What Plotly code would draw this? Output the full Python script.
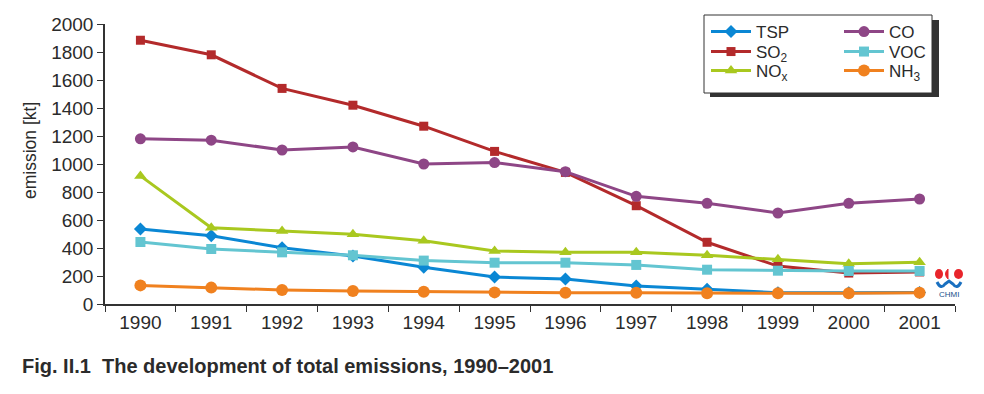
import plotly.graph_objects as go

years = [str(y) for y in range(1990, 2002)]
tsp = [536, 488, 402, 343, 262, 193, 178, 129, 105, 81, 80, 82]
so2 = [1884, 1780, 1540, 1420, 1270, 1090, 940, 702, 441, 271, 221, 229]
nox = [915, 545, 521, 498, 452, 379, 369, 369, 348, 319, 288, 298]
co = [1180, 1170, 1100, 1122, 1000, 1010, 945, 769, 719, 650, 719, 750]
voc = [443, 393, 369, 348, 310, 295, 295, 279, 245, 238, 236, 236]
nh3 = [133, 117, 100, 93, 88, 83, 81, 81, 76, 76, 76, 81]

FONT = "Liberation Sans, Arial, sans-serif"
TXT = "#2b2b2b"

# figure drawn inside the page body (8px default margin)
W, H = 968, 378
L, T = 97, 16
PR, PB = 947, 296          # plot right / bottom in figure px
R, B = W - PR, H - PB
pw, ph = PR - L, PB - T


def px(x):
    return (x - L) / pw


def py(y):
    return (PB - y) / ph


COL1, COL2 = 698, 831
ROWS = [24, 44, 63]

series = [
    ("TSP", tsp, "#0a87d4", "diamond", 10, "legend", COL1, ROWS[0]),
    ("SO<sub>2</sub>", so2, "#b32a2b", "square", 9, "legend2", COL1, ROWS[1]),
    ("NO<sub>x</sub>", nox, "#a9c81f", "triangle-up", 11, "legend3", COL1, ROWS[2]),
    ("CO", co, "#8e4686", "circle", 11, "legend4", COL2, ROWS[0]),
    ("VOC", voc, "#63c5d1", "square", 10, "legend5", COL2, ROWS[1]),
    ("NH<sub>3</sub>", nh3, "#f0811f", "circle", 12, "legend6", COL2, ROWS[2]),
]

fig = go.Figure()
legends = {}
for name, vals, col, sym, sz, leg, lx, ly in series:
    fig.add_trace(go.Scatter(
        x=years, y=vals, name=name, mode="lines+markers",
        line=dict(color=col, width=3),
        marker=dict(color=col, symbol=sym, size=sz),
        legend=leg,
    ))
    legends[leg] = dict(x=px(lx), y=py(ly), xanchor="left", yanchor="middle",
                        bgcolor="rgba(0,0,0,0)",
                        font=dict(size=17, family=FONT, color=TXT),
                        itemwidth=40)

shapes = [
    # legend shadow
    dict(type="rect", xref="paper", yref="paper",
         x0=px(702), x1=px(931), y0=py(89), y1=py(12),
         fillcolor="#333333", line=dict(width=0), layer="above"),
    # legend box
    dict(type="rect", xref="paper", yref="paper",
         x0=px(696), x1=px(924), y0=py(85), y1=py(7),
         fillcolor="white", line=dict(color="#333333", width=1), layer="above"),
    # CHMI logo
    dict(type="circle", xref="paper", yref="paper",
         x0=px(927), x1=px(935), y0=py(271), y1=py(261),
         fillcolor="#e8252b", line=dict(width=0), layer="above"),
    dict(type="path", xref="paper", yref="paper",
         path=(f"M {px(940)},{py(261)} Q {px(935)},{py(266)} {px(940)},{py(271)} Z"),
         fillcolor="#e8252b", line=dict(color="#e8252b", width=1), layer="above"),
    dict(type="circle", xref="paper", yref="paper",
         x0=px(946), x1=px(955), y0=py(271), y1=py(261),
         fillcolor="#e8252b", line=dict(width=0), layer="above"),
    dict(type="path", xref="paper", yref="paper",
         path=(f"M {px(929)},{py(274)} Q {px(933)},{py(282)} {px(937)},{py(276)}"
               f" L {px(941)},{py(273)} L {px(945)},{py(276)}"
               f" Q {px(949)},{py(282)} {px(953)},{py(274)}"),
         line=dict(color="#1a70c0", width=3), layer="above"),
]

fig.update_layout(
    width=W, height=H,
    margin=dict(l=L, r=R, t=T, b=B, autoexpand=False),
    paper_bgcolor="white", plot_bgcolor="white",
    font=dict(family=FONT, color=TXT, size=17),
    showlegend=True,
    xaxis=dict(type="category", range=[-0.5, 11.5], showgrid=False,
               showline=True, linecolor="#333333", linewidth=1.5,
               ticks="outside", tickson="boundaries", ticklen=6, tickcolor="#333333",
               tickfont=dict(size=19, family=FONT, color=TXT), zeroline=False),
    yaxis=dict(range=[0, 2000], dtick=200, showgrid=False, zeroline=False,
               showline=True, linecolor="#333333", linewidth=1.5,
               ticks="outside", ticklen=6, tickcolor="#333333",
               tickfont=dict(size=19, family=FONT, color=TXT)),
    shapes=shapes,
    annotations=[
        dict(text="emission [kt]", textangle=-90,
             xref="paper", yref="paper", x=px(22), y=py(143),
             xanchor="center", yanchor="middle", showarrow=False,
             font=dict(size=17.5, family=FONT, color=TXT)),
        dict(text="<b>Fig. II.1  The development of total emissions, 1990–2001</b>",
             xref="paper", yref="paper", x=px(12), y=py(358), xanchor="left", yanchor="middle",
             showarrow=False, font=dict(size=20, family=FONT, color=TXT)),
        dict(text="CHMI", xref="paper", yref="paper", x=px(941), y=py(286),
             xanchor="center", yanchor="middle", showarrow=False,
             font=dict(size=8, family=FONT, color="#1a4f8a")),
    ],
    **legends,
)

fig.write_html("out.html")
